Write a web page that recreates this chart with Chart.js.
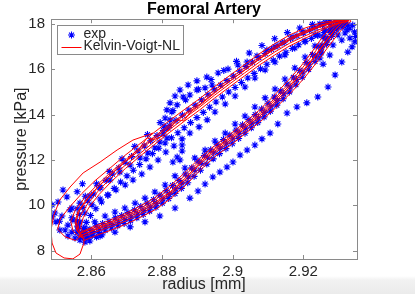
<!DOCTYPE html>
<html>
<head>
<meta charset="utf-8">
<script src="https://cdn.jsdelivr.net/npm/chart.js@4.4.1/dist/chart.umd.min.js"></script>
<style>
  html, body { margin: 0; padding: 0; }
  body {
    width: 415px; height: 294px; overflow: hidden;
    background: linear-gradient(to bottom, #fff 0, #fff 276px, #f2f2f2 280px, #ebebeb 294px);
  }
  canvas { display: block; }
</style>
</head>
<body>
<canvas id="chart" width="415" height="294"></canvas>
<script>
// axis ticks
const radiusTicks = [2.86, 2.88, 2.90, 2.92];
const pressureTicks = [8, 10, 12, 14, 16, 18];

// measured data (radius [mm], pressure [kPa]), one array per loading / unloading pass
const expLoad1 = [[2.8560,8.80],[2.8578,8.75],[2.8596,8.95],[2.8614,9.10],[2.8632,9.20],[2.8650,9.30],[2.8668,9.45],[2.8686,9.55],[2.8704,9.68],[2.8722,9.80],[2.8740,9.95],[2.8758,10.10],[2.8776,10.25],[2.8794,10.45],[2.8812,10.65],[2.8830,10.88],[2.8848,11.10],[2.8866,11.38],[2.8884,11.65],[2.8902,11.95],[2.8920,12.20],[2.8938,12.45],[2.8956,12.70],[2.8974,12.90],[2.8992,13.10],[2.9010,13.32],[2.9028,13.55],[2.9046,13.78],[2.9064,14.00],[2.9082,14.25],[2.9100,14.50],[2.9118,14.78],[2.9136,15.05],[2.9154,15.35],[2.9172,15.65],[2.9190,15.95],[2.9208,16.30],[2.9226,16.65],[2.9244,17.00],[2.9262,17.35],[2.9278,17.62],[2.9292,17.85],[2.9305,18.00]];
const expUnload1 = [[2.9290,18.10],[2.9272,18.05],[2.9254,17.95],[2.9236,17.85],[2.9218,17.72],[2.9200,17.60],[2.9182,17.48],[2.9164,17.35],[2.9146,17.20],[2.9128,17.05],[2.9110,16.88],[2.9092,16.70],[2.9074,16.52],[2.9056,16.32],[2.9038,16.12],[2.9020,15.92],[2.9002,15.70],[2.8984,15.50],[2.8966,15.30],[2.8948,15.10],[2.8930,14.88],[2.8912,14.65],[2.8894,14.42],[2.8876,14.20],[2.8858,13.98],[2.8840,13.75],[2.8822,13.52],[2.8804,13.30],[2.8786,13.08],[2.8768,12.85],[2.8750,12.62],[2.8732,12.40],[2.8714,12.15],[2.8696,11.90],[2.8678,11.65],[2.8660,11.38],[2.8642,11.10],[2.8624,10.80],[2.8606,10.50],[2.8590,10.20],[2.8576,9.90],[2.8566,9.60],[2.8560,9.30],[2.8562,9.05]];
const expLoad2 = [[2.8585,8.55],[2.8603,8.68],[2.8621,8.80],[2.8639,8.90],[2.8657,9.00],[2.8675,9.10],[2.8693,9.20],[2.8711,9.32],[2.8729,9.45],[2.8747,9.60],[2.8765,9.75],[2.8783,9.92],[2.8801,10.10],[2.8819,10.30],[2.8837,10.52],[2.8855,10.75],[2.8873,11.00],[2.8891,11.28],[2.8909,11.55],[2.8927,11.82],[2.8945,12.05],[2.8963,12.28],[2.8981,12.50],[2.8999,12.72],[2.9017,12.95],[2.9035,13.18],[2.9053,13.42],[2.9071,13.65],[2.9089,13.90],[2.9107,14.15],[2.9125,14.42],[2.9143,14.70],[2.9161,15.00],[2.9179,15.32],[2.9197,15.65],[2.9215,16.00],[2.9233,16.35],[2.9250,16.72],[2.9266,17.10],[2.9280,17.45],[2.9293,17.75],[2.9305,17.95],[2.9318,18.05]];
const expUnload2 = [[2.9325,17.95],[2.9312,17.85],[2.9295,17.80],[2.9277,17.72],[2.9259,17.62],[2.9241,17.50],[2.9223,17.36],[2.9205,17.22],[2.9187,17.08],[2.9169,16.92],[2.9151,16.75],[2.9133,16.58],[2.9115,16.40],[2.9097,16.22],[2.9079,16.02],[2.9061,15.82],[2.9043,15.62],[2.9025,15.42],[2.9007,15.20],[2.8989,15.00],[2.8971,14.78],[2.8953,14.56],[2.8935,14.33],[2.8917,14.10],[2.8899,13.87],[2.8881,13.65],[2.8863,13.42],[2.8845,13.20],[2.8827,12.98],[2.8809,12.75],[2.8791,12.52],[2.8773,12.28],[2.8755,12.05],[2.8737,11.80],[2.8719,11.55],[2.8701,11.30],[2.8683,11.03],[2.8665,10.75],[2.8647,10.45],[2.8629,10.15],[2.8613,9.85],[2.8598,9.55],[2.8586,9.25],[2.8578,8.98],[2.8575,8.75]];
const expLoad3 = [[2.8582,8.38],[2.8625,8.65],[2.8667,8.82],[2.8710,9.05],[2.8752,9.27],[2.8794,9.53],[2.8837,9.88],[2.8879,10.32],[2.8902,10.63],[2.8922,10.94],[2.8944,11.25],[2.8964,11.47],[2.8984,11.69],[2.9001,11.91],[2.9021,12.22],[2.9041,12.44],[2.9063,12.66],[2.9083,12.93],[2.9106,13.19],[2.9128,13.59],[2.9154,14.07],[2.9182,14.34],[2.9210,14.52],[2.9241,14.78],[2.9270,15.22],[2.9290,15.75],[2.9309,16.32],[2.9326,16.76],[2.9338,16.99],[2.9346,17.21],[2.9348,17.45]];
const expUnload3 = [[2.9332,17.82],[2.9318,18.04],[2.9304,18.13],[2.9275,18.09],[2.9247,18.00],[2.9227,17.82],[2.9199,17.65],[2.9171,17.43],[2.9140,17.16],[2.9120,16.99],[2.9097,16.85],[2.9069,16.59],[2.9041,16.32],[2.9015,16.19],[2.8987,16.01],[2.8959,15.84],[2.8927,15.66],[2.8899,15.49],[2.8874,15.31],[2.8851,15.09],[2.8837,14.82],[2.8823,14.52],[2.8814,14.21],[2.8809,13.85],[2.8806,13.50],[2.8803,13.15],[2.8794,12.79],[2.8780,12.53],[2.8760,12.31],[2.8738,12.09],[2.8710,11.78],[2.8681,11.47],[2.8653,11.12],[2.8625,10.77],[2.8596,10.41],[2.8568,10.10],[2.8540,9.80],[2.8517,9.53],[2.8500,9.27],[2.8511,8.91],[2.8534,8.65]];
const expLoad4 = [[2.8582,9.00],[2.8610,9.27],[2.8639,9.53],[2.8667,9.71],[2.8695,9.88],[2.8724,10.10],[2.8752,10.32],[2.8780,10.59],[2.8809,10.90],[2.8837,11.30],[2.8865,11.65],[2.8893,12.09],[2.8922,12.44],[2.8950,12.84],[2.8979,13.19],[2.9007,13.59],[2.9035,13.94],[2.9063,14.34],[2.9092,14.74],[2.9120,15.13],[2.9148,15.57],[2.9176,16.06],[2.9205,16.54],[2.9233,17.03],[2.9256,17.43],[2.9275,17.74]];
const expUnload4 = [[2.9290,17.91],[2.9261,17.74],[2.9233,17.51],[2.9205,17.25],[2.9176,16.94],[2.9148,16.63],[2.9120,16.32],[2.9092,15.97],[2.9063,15.62],[2.9035,15.22],[2.9007,14.82],[2.8979,14.47],[2.8950,14.12],[2.8928,13.77],[2.8905,13.46],[2.8879,13.19],[2.8857,12.93],[2.8834,12.62],[2.8811,12.35],[2.8789,12.00],[2.8766,11.69],[2.8743,11.38],[2.8718,11.12],[2.8696,10.90],[2.8670,10.68],[2.8647,10.46],[2.8625,10.28],[2.8602,10.02],[2.8582,9.66],[2.8568,9.27],[2.8562,8.91]];
const expLoad5 = [[2.8569,8.60],[2.8587,8.72],[2.8605,8.84],[2.8623,8.95],[2.8641,9.05],[2.8659,9.15],[2.8677,9.26],[2.8695,9.38],[2.8713,9.50],[2.8731,9.62],[2.8749,9.78],[2.8767,9.92],[2.8785,10.08],[2.8803,10.28],[2.8821,10.48],[2.8839,10.72],[2.8857,10.98],[2.8875,11.25],[2.8893,11.55],[2.8911,11.85],[2.8929,12.10],[2.8947,12.32],[2.8965,12.52],[2.8983,12.72],[2.9001,12.94],[2.9019,13.18],[2.9037,13.40],[2.9055,13.62],[2.9073,13.85],[2.9091,14.10],[2.9109,14.35],[2.9127,14.62],[2.9145,14.92],[2.9163,15.22],[2.9181,15.55],[2.9199,15.88],[2.9217,16.22],[2.9235,16.58],[2.9252,16.95],[2.9268,17.30],[2.9283,17.62],[2.9297,17.88]];
const expUnload5 = [[2.9300,18.15],[2.9262,18.08],[2.9226,17.98],[2.9190,17.82],[2.9155,17.62],[2.9119,17.35],[2.9083,17.05],[2.9047,16.72],[2.9011,16.35],[2.8975,15.95],[2.8939,15.55],[2.8903,15.12],[2.8867,14.65],[2.8831,14.18],[2.8795,13.65],[2.8759,13.12],[2.8723,12.60],[2.8687,12.05],[2.8651,11.50],[2.8615,10.95],[2.8583,10.40],[2.8560,9.85],[2.8545,9.45]];
const expBulge = [[2.8860,14.78],[2.8879,14.87],[2.8899,15.09],[2.8922,15.18],[2.8942,15.31],[2.8843,14.43],[2.8828,14.12],[2.8823,13.77],[2.8817,13.41],[2.8814,12.97],[2.8857,12.40],[2.8851,12.00],[2.8831,11.91],[2.8857,12.66],[2.8843,12.13]];
const expTop = [[2.9253,17.07],[2.9250,16.76],[2.9247,16.50],[2.9256,16.23],[2.9264,17.38],[2.9298,17.51],[2.9318,17.60],[2.9309,17.29],[2.9284,17.07],[2.9275,16.63],[2.9332,17.38],[2.9324,17.74],[2.9241,17.51],[2.9312,18.10],[2.9296,18.18],[2.9340,17.95],[2.9345,17.65],[2.9280,17.90]];
const expBottom = [[2.8554,8.56],[2.8568,8.47],[2.8591,8.56],[2.8545,8.82],[2.8562,9.09],[2.8582,8.78],[2.8602,8.74],[2.8534,9.13],[2.8526,8.91],[2.8596,8.43],[2.8615,8.60],[2.8630,8.70],[2.8575,8.62],[2.8548,9.35]];
const expLeft = [[2.8489,10.02],[2.8506,10.15],[2.8497,9.66],[2.8489,9.49],[2.8531,10.37],[2.8545,9.88],[2.8520,10.68],[2.8510,9.30],[2.8560,10.60],[2.8575,10.95]];

// Kelvin-Voigt-NL model output: start-up transient, then successive loops
const modelTransient = [[2.8775,13.19],[2.8718,12.88],[2.8673,12.44],[2.8625,11.91],[2.8577,11.43],[2.8540,10.81],[2.8511,10.24],[2.8494,9.57],[2.8486,8.91],[2.8489,8.34],[2.8500,7.90],[2.8523,7.68],[2.8548,7.64],[2.8568,7.85],[2.8577,8.25],[2.8579,8.56]];
const modelLoopA = [[2.8568,8.65],[2.8610,8.91],[2.8653,9.13],[2.8695,9.40],[2.8738,9.71],[2.8780,10.06],[2.8823,10.55],[2.8865,11.12],[2.8908,11.82],[2.8950,12.40],[2.8993,12.88],[2.9035,13.41],[2.9077,13.94],[2.9120,14.56],[2.9162,15.22],[2.9199,15.88],[2.9233,16.55],[2.9264,17.21],[2.9290,17.74],[2.9309,18.04],[2.9324,18.13],[2.9318,18.18],[2.9281,18.04],[2.9247,17.87],[2.9205,17.60],[2.9162,17.29],[2.9120,16.90],[2.9077,16.46],[2.9035,15.97],[2.8993,15.49],[2.8950,15.00],[2.8908,14.47],[2.8865,13.99],[2.8823,13.50],[2.8780,12.97],[2.8738,12.44],[2.8695,11.91],[2.8653,11.34],[2.8616,10.77],[2.8585,10.24],[2.8562,9.71],[2.8554,9.27],[2.8560,8.87],[2.8574,8.61]];
const modelLoopB = [[2.8580,8.45],[2.8612,8.66],[2.8655,8.90],[2.8697,9.16],[2.8740,9.48],[2.8782,9.82],[2.8825,10.30],[2.8867,10.88],[2.8910,11.58],[2.8952,12.18],[2.8995,12.66],[2.9037,13.18],[2.9079,13.70],[2.9122,14.30],[2.9164,14.95],[2.9203,15.62],[2.9238,16.30],[2.9270,16.98],[2.9298,17.55],[2.9320,17.95],[2.9335,18.12],[2.9330,18.20],[2.9290,18.15],[2.9250,18.05],[2.9205,17.82],[2.9162,17.52],[2.9120,17.14],[2.9077,16.70],[2.9035,16.22],[2.8993,15.74],[2.8950,15.25],[2.8908,14.72],[2.8865,14.24],[2.8823,13.76],[2.8780,13.24],[2.8738,12.72],[2.8695,12.20],[2.8653,11.64],[2.8610,11.08],[2.8573,10.52],[2.8540,9.95],[2.8512,9.40],[2.8505,8.95],[2.8525,8.62],[2.8555,8.45]];
const modelLoopD = [[2.8578,8.72],[2.8615,8.98],[2.8655,9.22],[2.8697,9.50],[2.8740,9.80],[2.8782,10.15],[2.8825,10.62],[2.8867,11.22],[2.8910,11.92],[2.8952,12.50],[2.8995,12.98],[2.9037,13.50],[2.9080,14.05],[2.9122,14.68],[2.9165,15.35],[2.9202,16.00],[2.9236,16.66],[2.9266,17.30],[2.9292,17.80],[2.9312,18.08],[2.9328,18.16],[2.9322,18.20],[2.9285,18.08],[2.9250,17.92],[2.9208,17.66],[2.9165,17.36],[2.9122,16.96],[2.9080,16.52],[2.9038,16.02],[2.8996,15.52],[2.8954,15.02],[2.8912,14.48],[2.8880,14.10],[2.8862,13.72],[2.8845,13.78],[2.8825,13.45],[2.8800,13.05],[2.8778,12.90],[2.8758,12.98],[2.8738,12.55],[2.8700,11.98],[2.8658,11.40],[2.8620,10.82],[2.8590,10.28],[2.8566,9.75],[2.8557,9.30],[2.8562,8.90],[2.8575,8.68]];
const modelLoopE = [[2.8572,8.58],[2.8612,8.82],[2.8654,9.05],[2.8696,9.30],[2.8739,9.62],[2.8781,9.98],[2.8824,10.48],[2.8866,11.02],[2.8909,11.68],[2.8951,12.32],[2.8994,12.80],[2.9036,13.28],[2.9078,13.86],[2.9121,14.48],[2.9163,15.10],[2.9201,15.78],[2.9236,16.45],[2.9267,17.12],[2.9294,17.66],[2.9315,18.02],[2.9330,18.14],[2.9324,18.19],[2.9286,18.10],[2.9249,17.95],[2.9206,17.70],[2.9163,17.40],[2.9121,17.02],[2.9078,16.56],[2.9036,16.10],[2.8994,15.60],[2.8952,15.12],[2.8910,14.60],[2.8868,14.08],[2.8826,13.62],[2.8784,13.10],[2.8742,12.58],[2.8700,12.05],[2.8658,11.50],[2.8618,10.92],[2.8582,10.35],[2.8555,9.80],[2.8542,9.30],[2.8548,8.88],[2.8566,8.60]];
const modelLoopF = [[2.8570,8.78],[2.8611,9.02],[2.8653,9.26],[2.8695,9.55],[2.8737,9.86],[2.8779,10.22],[2.8821,10.70],[2.8864,11.30],[2.8906,11.95],[2.8949,12.52],[2.8991,13.00],[2.9034,13.55],[2.9076,14.08],[2.9118,14.70],[2.9160,15.38],[2.9197,16.05],[2.9230,16.70],[2.9259,17.32],[2.9284,17.80],[2.9302,18.05],[2.9314,18.10],[2.9306,18.08],[2.9276,17.94],[2.9244,17.74],[2.9203,17.46],[2.9161,17.15],[2.9119,16.76],[2.9076,16.32],[2.9034,15.84],[2.8992,15.36],[2.8949,14.86],[2.8907,14.34],[2.8865,13.86],[2.8823,13.36],[2.8781,12.84],[2.8739,12.30],[2.8697,11.78],[2.8655,11.20],[2.8619,10.62],[2.8590,10.08],[2.8570,9.58],[2.8562,9.15],[2.8568,8.80]];
const modelLoopC = [[2.8575,8.85],[2.8612,9.10],[2.8652,9.34],[2.8694,9.62],[2.8736,9.95],[2.8778,10.32],[2.8820,10.82],[2.8862,11.40],[2.8905,12.06],[2.8948,12.62],[2.8990,13.10],[2.9032,13.63],[2.9074,14.18],[2.9116,14.82],[2.9157,15.50],[2.9194,16.15],[2.9226,16.80],[2.9254,17.42],[2.9278,17.85],[2.9296,18.02],[2.9305,18.05],[2.9298,18.02],[2.9270,17.85],[2.9240,17.62],[2.9200,17.33],[2.9160,17.02],[2.9118,16.62],[2.9075,16.18],[2.9033,15.70],[2.8991,15.22],[2.8948,14.72],[2.8906,14.20],[2.8864,13.72],[2.8822,13.22],[2.8780,12.70],[2.8738,12.17],[2.8697,11.63],[2.8657,11.05],[2.8622,10.48],[2.8595,9.95],[2.8577,9.45],[2.8570,9.05],[2.8575,8.85]];

const expPasses = [expLoad1, expUnload1, expLoad2, expUnload2, expLoad3, expUnload3,
  expLoad4, expUnload4, expLoad5, expUnload5, expBulge, expTop, expBottom, expLeft];
const modelPasses = [modelTransient, modelLoopA, modelLoopB, modelLoopD, modelLoopE, modelLoopF, modelLoopC];

const toXY = p => ({ x: p[0], y: p[1] });
const FONT = '"Liberation Sans", Arial, Helvetica, sans-serif';
const TEXT = '#262626';

// MATLAB-like box, inward ticks and legend inside the axes
const matlabAxes = {
    id: 'matlabAxes',
    afterDraw(chart) {
        const { ctx, chartArea: a, scales: { x, y } } = chart;
        ctx.save();
        ctx.strokeStyle = '#8a8a8a';
        ctx.lineWidth = 1;
        ctx.beginPath();
        radiusTicks.forEach(v => {
            const px = Math.round(x.getPixelForValue(v)) + 0.5;
            ctx.moveTo(px, a.bottom); ctx.lineTo(px, a.bottom - 4);
            ctx.moveTo(px, a.top); ctx.lineTo(px, a.top + 4);
        });
        pressureTicks.forEach(v => {
            const py = Math.round(y.getPixelForValue(v)) + 0.5;
            ctx.moveTo(a.left, py); ctx.lineTo(a.left + 4, py);
            ctx.moveTo(a.right, py); ctx.lineTo(a.right - 4, py);
        });
        ctx.stroke();
        ctx.strokeRect(Math.round(a.left) + 0.5, Math.round(a.top) + 0.5,
            Math.round(a.right - a.left), Math.round(a.bottom - a.top));

        // legend
        const lx = Math.round(a.left) + 6.5, ly = Math.round(a.top) + 6.5;
        ctx.fillStyle = '#fff';
        ctx.fillRect(lx, ly, 126, 29);
        ctx.strokeStyle = '#8a8a8a';
        ctx.strokeRect(lx, ly, 126, 29);
        const ds = chart.data.datasets;
        ctx.strokeStyle = ds[0].borderColor;
        ctx.lineWidth = 1.1;
        Chart.helpers.drawPoint(ctx, { pointStyle: 'star', radius: 3.5, rotation: 0, borderWidth: 1.1 },
            lx + 14, ly + 9.5);
        ctx.strokeStyle = ds[1].borderColor;
        ctx.lineWidth = 1;
        ctx.beginPath();
        ctx.moveTo(lx + 4, ly + 22); ctx.lineTo(lx + 24, ly + 22);
        ctx.stroke();
        ctx.fillStyle = TEXT;
        ctx.font = '14px ' + FONT;
        ctx.textBaseline = 'middle';
        ctx.textAlign = 'left';
        ctx.fillText(ds[0].label, lx + 26, ly + 9);
        ctx.fillText(ds[1].label, lx + 26, ly + 21);
        ctx.restore();
    }
};

new Chart(document.getElementById('chart'), {
    type: 'scatter',
    data: {
        datasets: [{
            label: 'exp',
            data: expPasses.flat().map(toXY),
            borderColor: '#0000ff',
            backgroundColor: '#0000ff',
            pointStyle: 'star',
            pointRadius: 3.5,
            borderWidth: 1.1,
            showLine: false,
            order: 1
        }, {
            label: 'Kelvin-Voigt-NL',
            data: modelPasses.flat().map(toXY),
            borderColor: '#ff0000',
            backgroundColor: '#ff0000',
            borderWidth: 1,
            pointRadius: 0,
            showLine: true,
            tension: 0,
            order: 0
        }]
    },
    options: {
        responsive: false,
        animation: false,
        devicePixelRatio: 1,
        layout: { padding: { top: 0, right: 58, bottom: 0, left: 0 } },
        plugins: {
            legend: { display: false },
            tooltip: { enabled: false },
            title: {
                display: true,
                fullSize: false,
                text: 'Femoral Artery',
                color: '#000',
                font: { family: FONT, size: 16, weight: 'bold' },
                padding: { top: 0, bottom: 0 }
            }
        },
        scales: {
            x: {
                type: 'linear',
                min: 2.8486,
                max: 2.9352,
                grid: { display: false, drawTicks: false },
                border: { display: false },
                ticks: {
                    color: TEXT,
                    font: { family: FONT, size: 15 },
                    padding: 4,
                    maxRotation: 0,
                    callback: v => String(Number(v.toFixed(2)))
                },
                afterBuildTicks: s => { s.ticks = radiusTicks.map(v => ({ value: v })); },
                afterFit: s => { s.height = 35; },
                title: {
                    display: true,
                    text: 'radius [mm]',
                    color: TEXT,
                    font: { family: FONT, size: 16 },
                    padding: { top: 0, bottom: 0 }
                }
            },
            y: {
                type: 'linear',
                min: 7.634,
                max: 18.21,
                grid: { display: false, drawTicks: false },
                border: { display: false },
                ticks: {
                    color: TEXT,
                    font: { family: FONT, size: 15 },
                    padding: 6,
                    callback: v => String(v)
                },
                afterBuildTicks: s => { s.ticks = pressureTicks.map(v => ({ value: v })); },
                afterFit: s => { s.width = 51; },
                title: {
                    display: true,
                    text: 'pressure [kPa]',
                    color: TEXT,
                    font: { family: FONT, size: 16 },
                    padding: { top: 12, bottom: 0 }
                }
            }
        }
    },
    plugins: [matlabAxes]
});
</script>
</body>
</html>
